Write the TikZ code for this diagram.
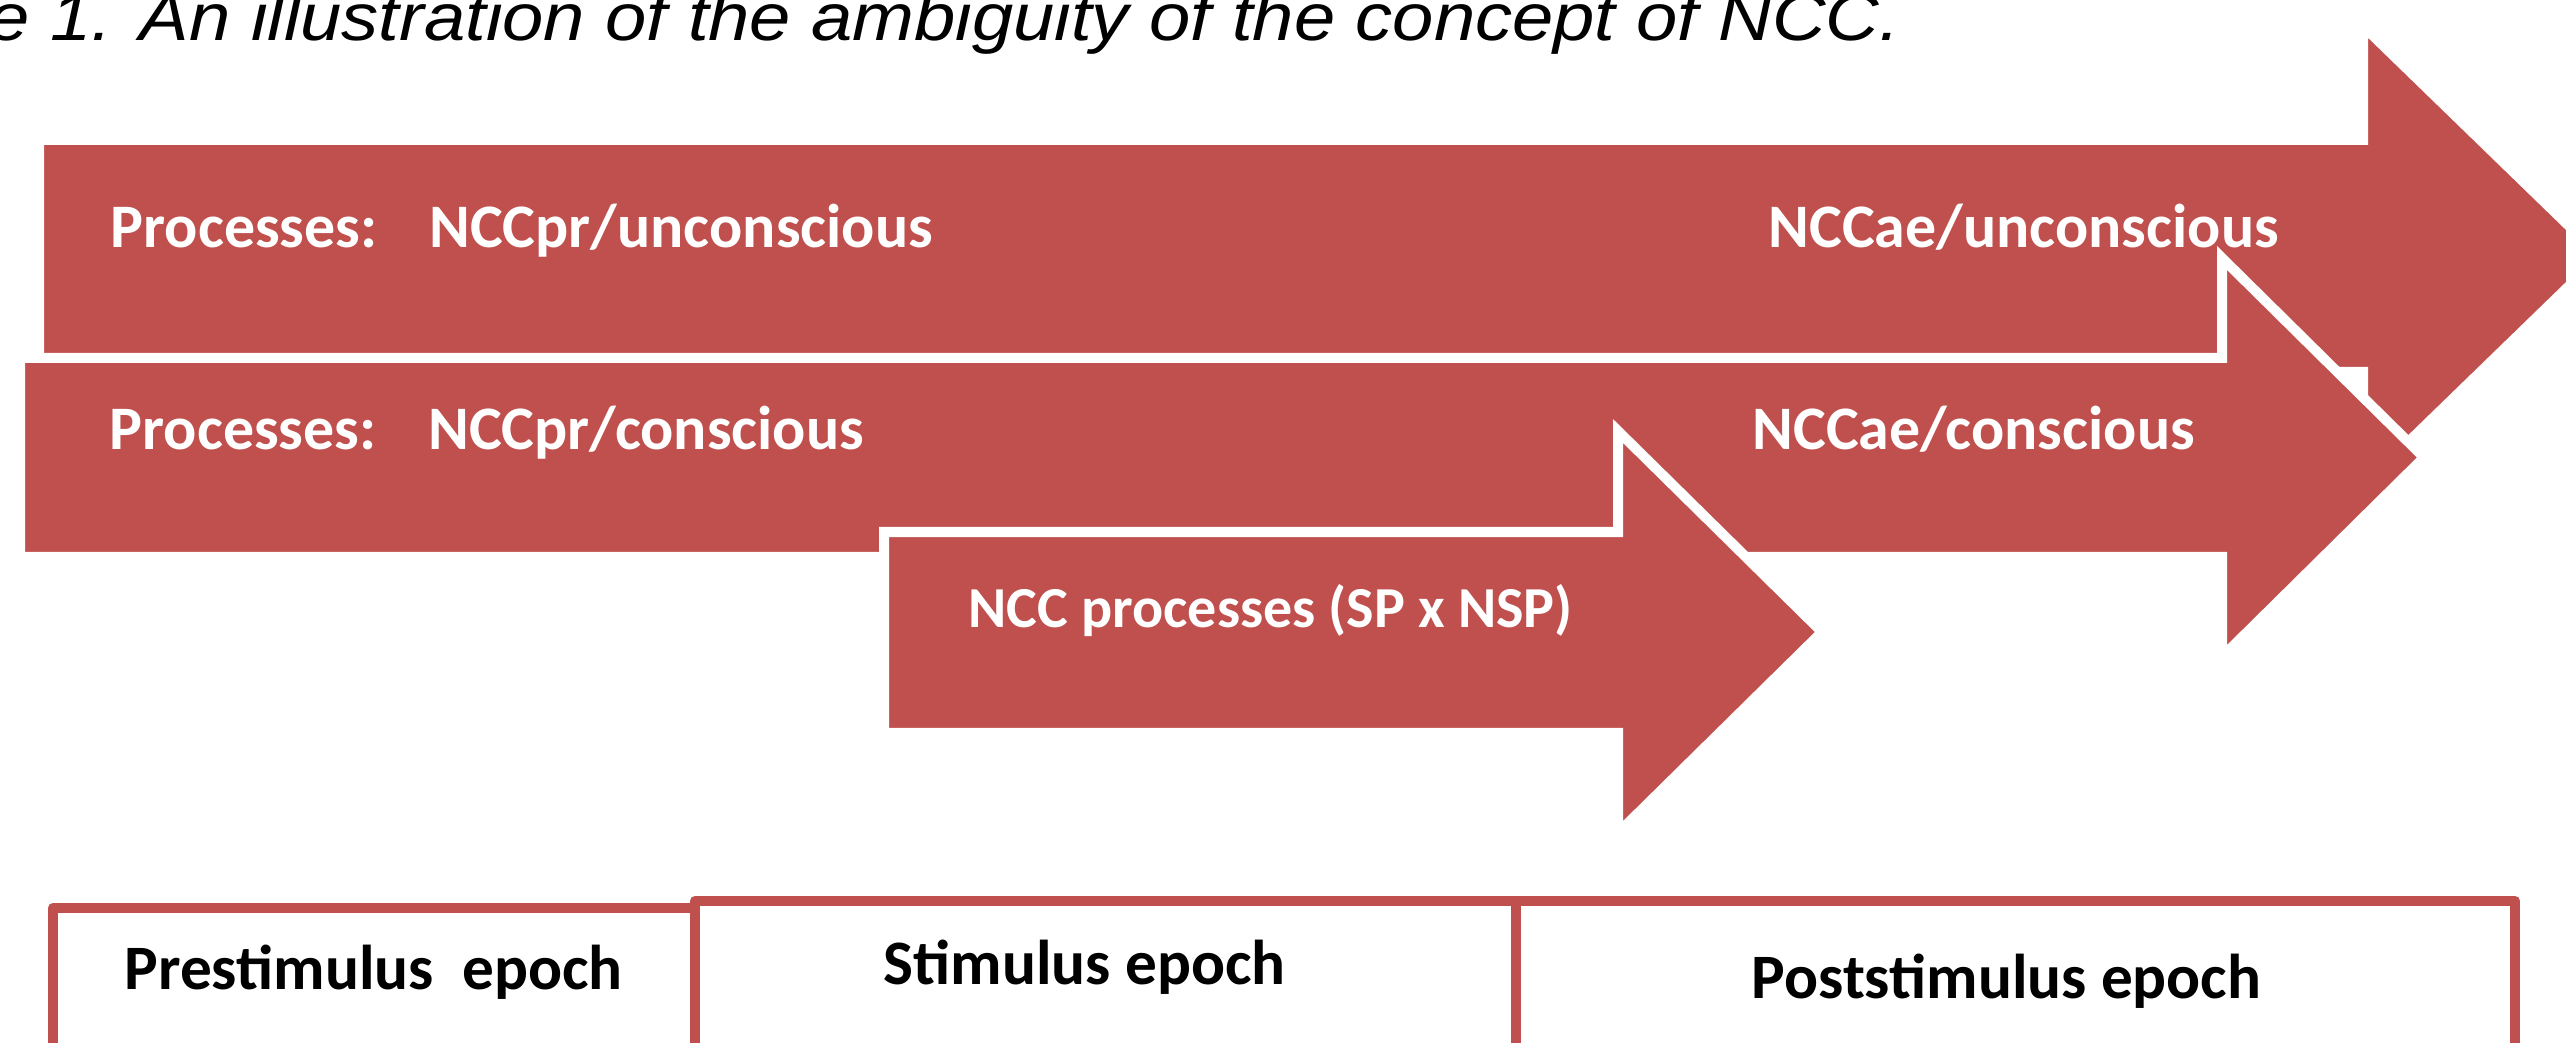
\documentclass[tikz,border=0pt]{standalone}
\usepackage{graphicx}
\usepackage{fontspec}
\setmainfont{Carlito}
\newfontfamily\titlefont{Liberation Sans}
\definecolor{accred}{HTML}{C0504D}
\begin{document}
\begin{tikzpicture}[x=0.01cm,y=-0.01cm,
  arrowshape/.style={fill=accred, draw=white, line width=2.845pt, line join=miter, miter limit=10},
  arrowlabel/.style={anchor=base west, inner sep=0pt, text=white, font=\fontsize{17.6pt}{21pt}\selectfont\bfseries},
  smalllabel/.style={anchor=base west, inner sep=0pt, text=white, font=\fontsize{16.5pt}{20pt}\selectfont\bfseries},
  epochline/.style={draw=accred, line width=2.845pt, line join=round},
  epochlabel/.style={anchor=base west, inner sep=0pt, text=black, font=\fontsize{18pt}{21pt}\selectfont\bfseries},
  titlelabel/.style={anchor=base west, inner sep=0pt, text=black, font=\titlefont\itshape\fontsize{19pt}{22pt}\selectfont}
]
\useasboundingbox (0,0) rectangle (2566,1043);
\clip (0,0) rectangle (2566,1043);

% title (clipped at the left and top as in the reference)
\node[titlelabel] (title) at (-12,41) {\scalebox{1.11}[1]{e 1. An illustration of the ambiguity of the concept of NCC.}};

% arrow 1: unconscious
\path[arrowshape] (39,140) -- (2363,140) -- (2363,26) -- (2600,256) -- (2363,486) -- (2363,372) -- (39,372) -- cycle;
% arrow 2: conscious
\path[arrowshape] (20,358) -- (2222,358) -- (2222,258) -- (2424,457.5) -- (2222,657) -- (2222,557) -- (20,557) -- cycle;
% arrow 3: NCC processes
\path[arrowshape] (884,532) -- (1618,532) -- (1618,431) -- (1822,632) -- (1618,833) -- (1618,733) -- (884,733) -- cycle;

\node[arrowlabel] (l1a) at (110,248) {Processes:\hspace{0.84em}NCCpr/unconscious};
\node[arrowlabel] (l1b) at (1768,248) {NCCae/unconscious};
\node[arrowlabel] (l2a) at (109,450) {Processes:\hspace{0.84em}NCCpr/conscious};
\node[arrowlabel] (l2b) at (1752,450) {NCCae/conscious};
\node[smalllabel] (l3) at (968,627) {NCC processes (SP x NSP)};

% epoch table
\draw[epochline] (53,1100) -- (53,908) -- (695,908) -- (695,1100);
\draw[epochline] (695,1100) -- (695,901) -- (2515,901) -- (2515,1100);
\draw[epochline] (1516,901) -- (1516,1100);

\node[epochlabel] (e1) at (124,989) {Prestimulus\ \ epoch};
\node[epochlabel] (e2) at (883,984) {Stimulus epoch};
\node[epochlabel] (e3) at (1751,998) {Poststimulus epoch};
\end{tikzpicture}
\end{document}
